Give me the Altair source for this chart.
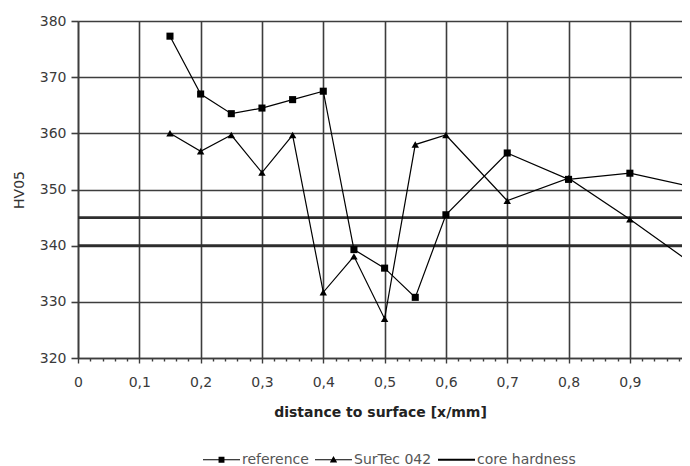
import altair as alt
import pandas as pd

# ---- data ----
x_ref = [0.15, 0.2, 0.25, 0.3, 0.35, 0.4, 0.45, 0.5, 0.55, 0.6, 0.7, 0.8, 0.9, 1.0]
hv_ref = [377.3, 367.0, 363.5, 364.5, 366.0, 367.5, 339.3, 336.0, 330.8, 345.5, 356.5, 351.8, 352.9, 350.5]
x_sur = [0.15, 0.2, 0.25, 0.3, 0.35, 0.4, 0.45, 0.5, 0.55, 0.6, 0.7, 0.8, 0.9, 1.0]
hv_sur = [360.0, 356.8, 359.7, 353.0, 359.7, 331.7, 338.1, 327.0, 358.0, 359.7, 348.0, 352.0, 344.7, 336.9]
core_levels = [340, 345]
series_names = ["reference", "SurTec 042", "core hardness"]

x_ticks = [0, 0.02, 0.04, 0.06, 0.08, 0.1, 0.12, 0.14, 0.16, 0.18,
           0.2, 0.22, 0.24, 0.26, 0.28, 0.3, 0.32, 0.34, 0.36, 0.38,
           0.4, 0.42, 0.44, 0.46, 0.48, 0.5, 0.52, 0.54, 0.56, 0.58,
           0.6, 0.62, 0.64, 0.66, 0.68, 0.7, 0.72, 0.74, 0.76, 0.78,
           0.8, 0.82, 0.84, 0.86, 0.88, 0.9, 0.92, 0.94, 0.96, 0.98]
y_ticks = [320, 330, 340, 350, 360, 370, 380]

df = pd.DataFrame({
    "x": x_ref + x_sur,
    "hv": hv_ref + hv_sur,
    "series": [series_names[0]] * len(x_ref) + [series_names[1]] * len(x_sur),
})
core_df = pd.DataFrame({"hv": core_levels, "series": [series_names[2]] * len(core_levels)})
legend_df = pd.DataFrame({"series": series_names})

FONT = "DejaVu Sans"
GRID = "#3d3d3d"

major_test = "round(datum.value * 50) % 5 == 0"

x_scale = alt.Scale(domain=[0, 0.985], nice=False, zero=False)
y_scale = alt.Scale(domain=[320, 380], nice=False, zero=False)

x_axis = alt.Axis(
    values=x_ticks,
    tickCount=100,
    title="distance to surface [x/mm]",
    titleFont=FONT, titleFontSize=14, titleFontWeight="bold", titleColor="#222222",
    titlePadding=16,
    labelFont=FONT, labelFontSize=14, labelColor="#3a3a3a", labelPadding=12,
    labelExpr=f"{major_test} ? replace(format(datum.value, '.1~f'), '.', ',') : ''",
    labelOverlap=False, labelFlush=False,
    grid=True, gridColor=GRID, gridWidth=1.6,
    gridOpacity={"condition": {"test": major_test, "value": 1}, "value": 0},
    ticks=True, tickColor=GRID, tickWidth=1.4,
    tickSize={"condition": {"test": major_test, "value": 5}, "value": 3},
    domain=True, domainColor=GRID, domainWidth=1.6,
)
y_axis = alt.Axis(
    values=y_ticks,
    tickCount=20,
    title="HV05",
    titleFont=FONT, titleFontSize=14, titleFontWeight="normal", titleColor="#333333",
    titlePadding=13,
    labelFont=FONT, labelFontSize=14, labelColor="#3a3a3a", labelPadding=5,
    grid=True, gridColor=GRID, gridWidth=1.6,
    ticks=True, tickColor=GRID, tickWidth=1.6, tickSize=7,
    domain=True, domainColor=GRID, domainWidth=1.6,
)

base = alt.Chart(df)

lines = base.mark_line(color="black", strokeWidth=1.2, clip=True).encode(
    x=alt.X("x:Q", scale=x_scale, axis=x_axis),
    y=alt.Y("hv:Q", scale=y_scale, axis=y_axis),
    detail="series:N",
)

pts_ref = base.transform_filter(alt.datum.series == series_names[0]).mark_point(
    shape="square", filled=True, color="black", size=50, opacity=1, clip=True
).encode(x="x:Q", y="hv:Q")

pts_sur = base.transform_filter(alt.datum.series == series_names[1]).mark_point(
    shape="triangle-up", filled=True, color="black", size=55, opacity=1, clip=True
).encode(x="x:Q", y="hv:Q")

core = alt.Chart(core_df).mark_rule(color="#2e2e2e", strokeWidth=2.8).encode(y="hv:Q")

path_ref = "M-1,-0.03H1V0.03H-1Z M-0.16,-0.16H0.16V0.16H-0.16Z"
path_sur = "M-1,-0.03H1V0.03H-1Z M0,-0.2L0.2,0.15H-0.2Z"
path_core = "M-1,-0.055H1V0.055H-1Z"

legend_layer = alt.Chart(legend_df).mark_point(
    filled=True, color="black", opacity=1, size=1369, clip=True
).encode(
    x=alt.value(-300),
    y=alt.value(-300),
    shape=alt.Shape(
        "series:N",
        sort=series_names,
        scale=alt.Scale(domain=series_names, range=[path_ref, path_sur, path_core]),
        legend=alt.Legend(
            title=None, orient="none", direction="horizontal",
            legendX=125, legendY=420,
            labelFont=FONT, labelFontSize=14, labelColor="#555555",
            labelOffset=2, columnPadding=6, padding=0,
            symbolSize=1369, symbolFillColor="black", symbolStrokeWidth=0,
            symbolOpacity=1,
        ),
    ),
)

chart = alt.layer(core, lines, pts_ref, pts_sur, legend_layer).properties(
    width=604,
    height=337,
    padding={"left": 70, "top": 13, "right": 0, "bottom": 108},
    autosize=alt.AutoSizeParams(type="none"),
).configure_view(strokeWidth=0)

chart.save("out.html", embed_options={"renderer": "svg", "actions": False})
